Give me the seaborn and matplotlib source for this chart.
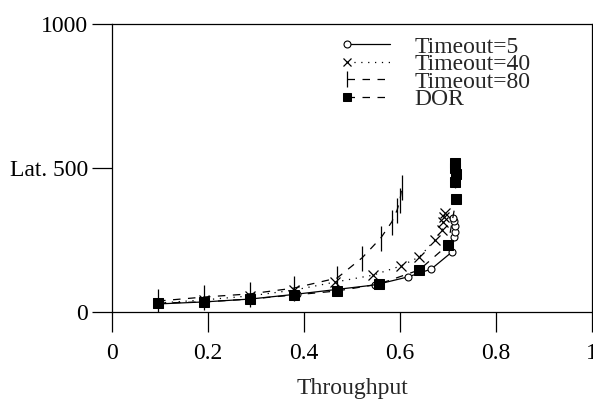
import matplotlib
matplotlib.use("Agg")
import matplotlib.pyplot as plt
import seaborn as sns
import pandas as pd
import numpy as np
from matplotlib.legend_handler import HandlerLine2D

# ---- data ----
t5_x = [0.096, 0.192, 0.288, 0.385, 0.548, 0.617, 0.665, 0.708, 0.713, 0.715, 0.715, 0.713, 0.711]
t5_y = [28, 35, 45, 62, 94, 122, 149, 208, 260, 278, 300, 316, 325]

t40_x = [0.096, 0.192, 0.288, 0.379, 0.465, 0.544, 0.602, 0.640, 0.673, 0.688, 0.690, 0.692, 0.694]
t40_y = [31, 42, 56, 76, 104, 128, 160, 191, 250, 285, 313, 330, 344]

t80_x = [0.096, 0.192, 0.288, 0.379, 0.469, 0.521, 0.560, 0.583, 0.594, 0.600, 0.604]
t80_y = [38, 52, 63, 83, 118, 188, 257, 313, 354, 389, 434]

dor_x = [0.096, 0.192, 0.288, 0.379, 0.469, 0.556, 0.640, 0.700, 0.717, 0.715, 0.717, 0.715, 0.715]
dor_y = [31, 35, 45, 59, 73, 97, 146, 233, 392, 451, 479, 500, 517]

series_names = ["Timeout=5", "Timeout=40", "Timeout=80", "DOR"]
x_ticks = [0, 0.2, 0.4, 0.6, 0.8, 1]
x_tick_labels = ["0", "0.2", "0.4", "0.6", "0.8", "1"]
y_ticks = [0, 500, 1000]
y_tick_labels = ["0", "Lat. 500", "1000"]

FS = 17

sns.set_style("ticks")
plt.rcParams['font.family'] = ['Liberation Serif', 'DejaVu Serif']
plt.rcParams['font.size'] = FS

fig = plt.figure(figsize=(5.93, 4.0), dpi=100)
ax = fig.add_axes([112/593, 1-312/400, 480/593, 288/400])

styles = {
    "Timeout=5": dict(linestyle='-', marker='o', markersize=5, markerfacecolor='white',
                      markeredgecolor='black', markeredgewidth=0.8),
    "Timeout=40": dict(linestyle=(0, (1, 4.5)), marker='x', markersize=7,
                       markeredgecolor='black', markeredgewidth=0.9),
    "Timeout=80": dict(linestyle=(0, (6, 6)), marker='|', markersize=18,
                       markeredgecolor='black', markeredgewidth=0.9),
    "DOR": dict(linestyle=(0, (6, 6)), marker='s', markersize=7, markerfacecolor='black',
                markeredgecolor='black'),
}

data = {
    "Timeout=5": (t5_x, t5_y),
    "Timeout=40": (t40_x, t40_y),
    "Timeout=80": (t80_x, t80_y),
    "DOR": (dor_x, dor_y),
}

for name in series_names:
    xs, ys = data[name]
    df = pd.DataFrame({"x": xs, "y": ys})
    sns.lineplot(data=df, x="x", y="y", ax=ax, sort=False, estimator=None,
                 color='black', linewidth=0.9, label=name, **styles[name])

ax.set_xlim(0, 1)
ax.set_ylim(0, 1000)
ax.set_xticks(x_ticks)
ax.set_xticklabels(x_tick_labels)
ax.set_yticks(y_ticks)
ax.set_yticklabels(y_tick_labels)
ax.tick_params(direction='out', length=14.4, width=0.9, labelsize=FS, colors='black')
ax.tick_params(axis='y', pad=3)
ax.tick_params(axis='x', pad=8)
ax.set_xlabel("Throughput", fontsize=FS, labelpad=10)
ax.set_ylabel("")
for s in ax.spines.values():
    s.set_visible(True)
    s.set_linewidth(0.9)
    s.set_color('black')


class LeftMarker(HandlerLine2D):
    def create_artists(self, legend, orig_handle, xdescent, ydescent, width, height, fontsize, trans):
        arts = super().create_artists(legend, orig_handle, xdescent, ydescent, width, height, fontsize, trans)
        for a in arts:
            if hasattr(a, 'set_markevery'):
                a.set_markevery([0])
        return arts


handles, labels = ax.get_legend_handles_labels()
if ax.get_legend() is not None:
    ax.get_legend().remove()
hmap = {h: LeftMarker(numpoints=2) for h in handles}
leg = fig.legend(handles, labels, loc='upper left', bbox_to_anchor=(340/593, 1-36/400),
                 frameon=False, labelspacing=-0.17, handlelength=2.4, handletextpad=0.75,
                 fontsize=FS, handler_map=hmap, borderpad=0, borderaxespad=0)
for h in leg.legend_handles:
    try:
        m = h.get_marker()
        if m == '|':
            h.set_markersize(12)
        elif m == 's':
            h.set_markersize(6)
        elif m == 'x':
            h.set_markersize(6)
    except Exception:
        pass

fig.savefig("out.png", dpi=100)
